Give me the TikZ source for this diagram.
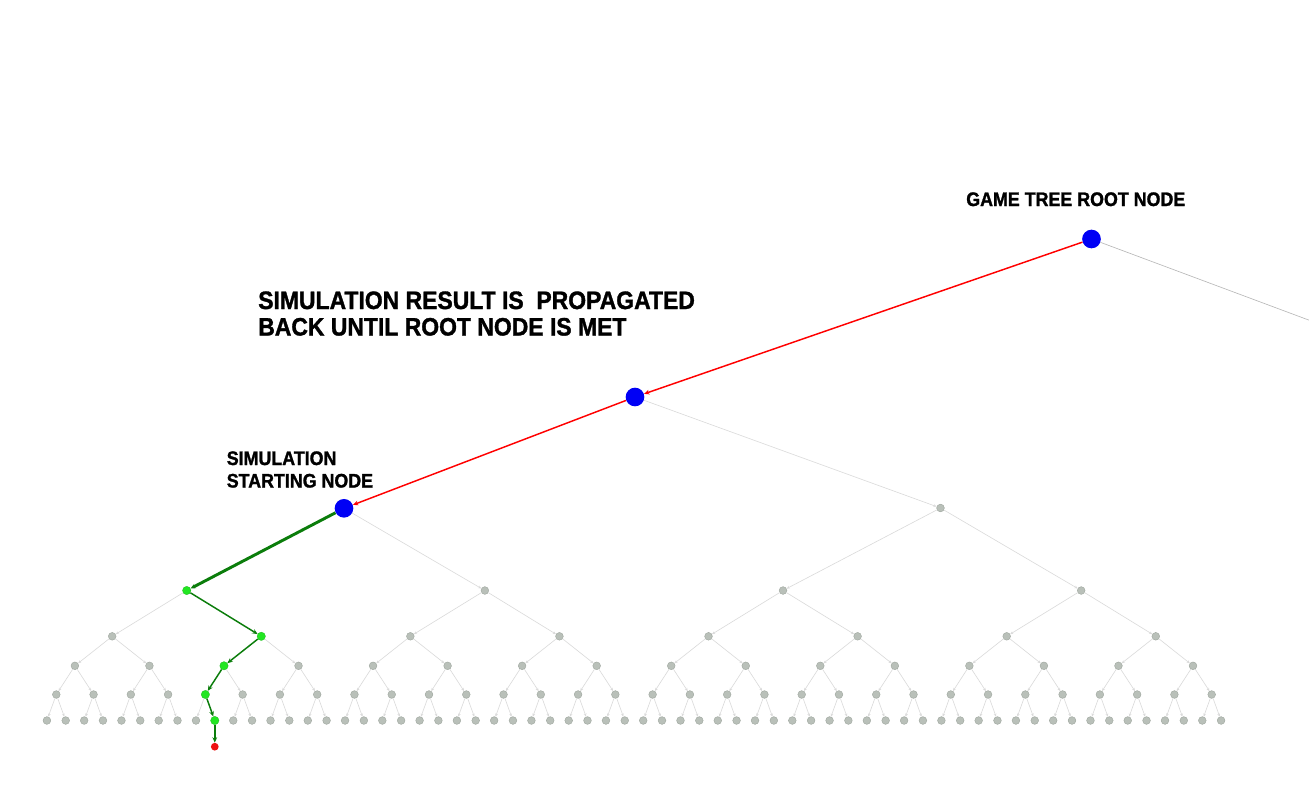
\documentclass[tikz,border=0pt]{standalone}
\usepackage{fontspec}
\setmainfont{Liberation Sans}[FakeStretch=0.91,BoldFeatures={FakeBold=1.3}]
\usetikzlibrary{arrows.meta}
\definecolor{nodefill}{HTML}{B9C0B9}
\definecolor{nodedraw}{HTML}{9EA69E}
\definecolor{edgegray}{HTML}{DADADA}
\definecolor{edgedark}{HTML}{B5B5B5}
\definecolor{bluenode}{HTML}{0000F5}
\definecolor{redline}{HTML}{FF0000}
\definecolor{rednode}{HTML}{EE1111}
\definecolor{greenline}{HTML}{0B7D0B}
\definecolor{greennode}{HTML}{22E622}
\begin{document}
\begin{tikzpicture}[x=0.75pt,y=-0.75pt,
  gnode/.style={circle,fill=nodefill,draw=nodedraw,line width=0.3pt,inner sep=0pt,minimum size=5.8pt},
  grnode/.style={circle,fill=greennode,draw=greennode!80!black,line width=0.2pt,inner sep=0pt,minimum size=6.3pt},
  rnode/.style={circle,fill=rednode,inner sep=0pt,minimum size=5.8pt},
  bnode/.style={circle,fill=bluenode,inner sep=0pt,minimum size=14pt},
  gedge/.style={draw=edgegray,line width=0.45pt,-{Stealth[length=2.4pt,width=2pt]}},
  redge/.style={draw=redline,line width=1.1pt,-{Stealth[length=4pt,width=3.5pt]}},
  gredge/.style={draw=greenline,line width=1.1pt,-{Stealth[length=4pt,width=3.5pt]}},
  lab/.style={anchor=base west,inner sep=0pt,font=\fontsize{14.7}{17}\selectfont\bfseries},
  biglab/.style={anchor=base west,inner sep=0pt,font=\fontsize{18.9}{22}\selectfont\bfseries}]
\useasboundingbox (0,0) rectangle (1309,800);
\fill[white] (0,0) rectangle (1309,800);
\clip (0,0) rectangle (1309,800);

% ---- nodes ----
\node[bnode] (root) at (1091.5,239) {};
\node[bnode] (mid) at (635,397) {};
\node[bnode] (start) at (344,508.3) {};
\node[gnode] (c3) at (940.5,508) {};
\coordinate (rootR) at (1515,397);

\foreach \k in {0,...,3}{
  \ifnum\k=0
    \node[grnode] (a4-\k) at ({186.7+298.16*\k},590.5) {};
  \else
    \node[gnode] (a4-\k) at ({186.7+298.16*\k},590.5) {};
  \fi
}
\foreach \k in {0,...,7}{
  \ifnum\k=1
    \node[grnode] (a5-\k) at ({112.2+149.08*\k},636.3) {};
  \else
    \node[gnode] (a5-\k) at ({112.2+149.08*\k},636.3) {};
  \fi
}
\foreach \k in {0,...,15}{
  \ifnum\k=2
    \node[grnode] (a6-\k) at ({74.9+74.54*\k},665.8) {};
  \else
    \node[gnode] (a6-\k) at ({74.9+74.54*\k},665.8) {};
  \fi
}
\foreach \k in {0,...,31}{
  \ifnum\k=4
    \node[grnode] (a7-\k) at ({56.3+37.27*\k},694.5) {};
  \else
    \node[gnode] (a7-\k) at ({56.3+37.27*\k},694.5) {};
  \fi
}
\foreach \k in {0,...,31}{
  \pgfmathtruncatemacro\ka{2*\k}
  \pgfmathtruncatemacro\kb{2*\k+1}
  \node[gnode] (a8-\ka) at ({56.3+37.27*\k-9.4},720.5) {};
  \ifnum\kb=9
    \node[grnode] (a8-\kb) at ({56.3+37.27*\k+9.4},720.5) {};
  \else
    \node[gnode] (a8-\kb) at ({56.3+37.27*\k+9.4},720.5) {};
  \fi
}
\node[rnode] (leaf) at (a8-9 |- 0,746.7) {};

% ---- gray edges ----
\draw[draw=edgedark,line width=0.45pt] (root) -- (rootR);
\draw[gedge] (mid) -- (c3);
\draw[gedge] (start) -- (a4-1);
\draw[gedge] (c3) -- (a4-2);
\draw[gedge] (c3) -- (a4-3);
\foreach \k in {0,...,3}{
  \pgfmathtruncatemacro\ka{2*\k}
  \pgfmathtruncatemacro\kb{2*\k+1}
  \draw[gedge] (a4-\k) -- (a5-\ka);
  \ifnum\kb=1 \else \draw[gedge] (a4-\k) -- (a5-\kb); \fi
}
\foreach \k in {0,...,7}{
  \pgfmathtruncatemacro\ka{2*\k}
  \pgfmathtruncatemacro\kb{2*\k+1}
  \ifnum\ka=2 \else \draw[gedge] (a5-\k) -- (a6-\ka); \fi
  \draw[gedge] (a5-\k) -- (a6-\kb);
}
\foreach \k in {0,...,15}{
  \pgfmathtruncatemacro\ka{2*\k}
  \pgfmathtruncatemacro\kb{2*\k+1}
  \ifnum\ka=4 \else \draw[gedge] (a6-\k) -- (a7-\ka); \fi
  \draw[gedge] (a6-\k) -- (a7-\kb);
}
\foreach \k in {0,...,31}{
  \pgfmathtruncatemacro\ka{2*\k}
  \pgfmathtruncatemacro\kb{2*\k+1}
  \draw[gedge] (a7-\k) -- (a8-\ka);
  \ifnum\kb=9 \else \draw[gedge] (a7-\k) -- (a8-\kb); \fi
}

% ---- red back-propagation ----
\draw[redge] (root) -- (mid);
\draw[redge] (mid) -- (start);

% ---- green simulation path ----
\draw[gredge,line width=2.2pt] (start) -- (a4-0);
\draw[gredge] (a4-0) -- (a5-1);
\draw[gredge] (a5-1) -- (a6-2);
\draw[gredge] (a6-2) -- (a7-4);
\draw[gredge] (a7-4) -- (a8-9);
\draw[gredge] (a8-9) -- (leaf);

% ---- labels ----
\node[lab] (rootlab) at (966,206) {GAME TREE ROOT NODE};
\node[biglab] (prop1) at (258,309) {SIMULATION RESULT IS\ \ PROPAGATED};
\node[biglab] (prop2) at (258,335.5) {BACK UNTIL ROOT NODE IS MET};
\node[lab] (sim1) at (226.5,465) {SIMULATION};
\node[lab] (sim2) at (226.5,487.5) {STARTING NODE};
\end{tikzpicture}
\end{document}
